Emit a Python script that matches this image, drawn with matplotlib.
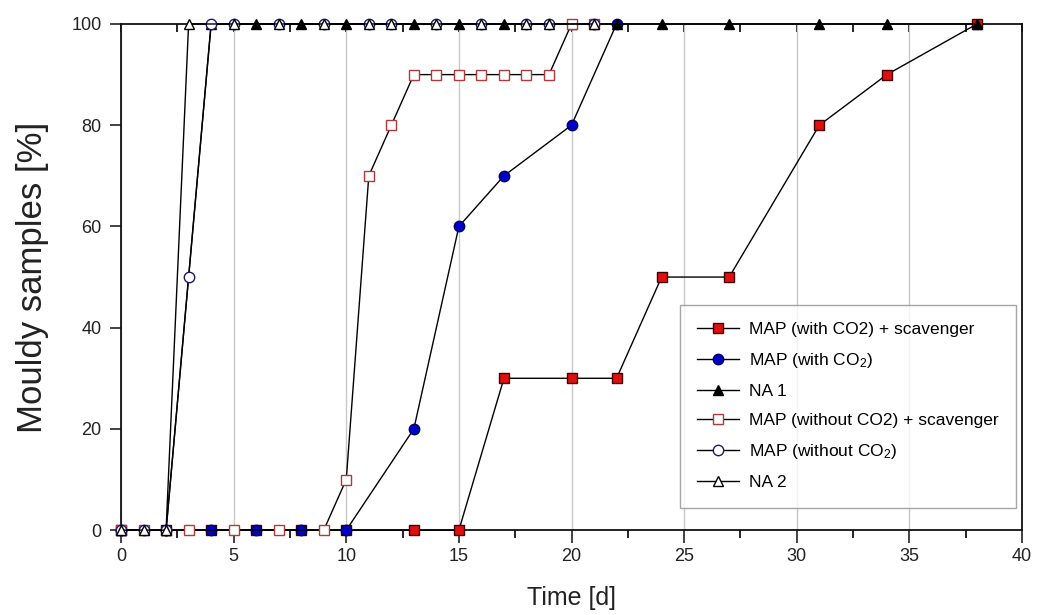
import matplotlib.pyplot as plt
from matplotlib.ticker import MultipleLocator, NullLocator

plt.rcParams['font.family'] = ['Liberation Sans', 'DejaVu Sans']

# MAP (with CO2) + scavenger
scav_co2_x = [0, 2, 4, 6, 8, 10, 13, 15, 17, 20, 22, 24, 27, 31, 34, 38]
scav_co2_y = [0, 0, 0, 0, 0, 0, 0, 0, 30, 30, 30, 50, 50, 80, 90, 100]
# MAP (with CO2)
co2_x = [0, 2, 4, 6, 8, 10, 13, 15, 17, 20, 22]
co2_y = [0, 0, 0, 0, 0, 0, 20, 60, 70, 80, 100]
# NA 1
na1_x = [0, 2, 4, 6, 8, 10, 13, 15, 17, 20, 22, 24, 27, 31, 34, 38]
na1_y = [0, 0, 100, 100, 100, 100, 100, 100, 100, 100, 100, 100, 100, 100, 100, 100]
# MAP (without CO2) + scavenger
scav_noco2_x = [0, 1, 3, 5, 7, 9, 10, 11, 12, 13, 14, 15, 16, 17, 18, 19, 20, 21]
scav_noco2_y = [0, 0, 0, 0, 0, 0, 10, 70, 80, 90, 90, 90, 90, 90, 90, 90, 100, 100]
# MAP (without CO2)
noco2_x = [0, 1, 2, 3, 4, 5, 7, 9, 11, 12, 14, 16, 18, 19, 21]
noco2_y = [0, 0, 0, 50, 100, 100, 100, 100, 100, 100, 100, 100, 100, 100, 100]
# NA 2
na2_x = [0, 1, 2, 3, 5, 7, 9, 11, 12, 14, 16, 18, 19, 21]
na2_y = [0, 0, 0, 100, 100, 100, 100, 100, 100, 100, 100, 100, 100, 100]

fig = plt.figure(figsize=(10.38, 6.15), dpi=100)
ax = fig.add_axes([0.1166, 0.138, 0.8680, 0.823])

ax.grid(True, axis='x', color='#c8c8c8', linewidth=1.0)
ax.set_axisbelow(True)

kw = dict(color='black', linewidth=1.0, markersize=7.5, clip_on=False, zorder=3)
ax.plot(scav_co2_x, scav_co2_y, marker='s', markerfacecolor='#e01010',
        markeredgecolor='#400000', label='MAP (with CO2) + scavenger', **kw)
ax.plot(co2_x, co2_y, marker='o', markerfacecolor='#0000c8',
        markeredgecolor='#000060', label=r'MAP (with CO$\mathregular{_2}$)', **kw)
ax.plot(na1_x, na1_y, marker='^', markerfacecolor='black',
        markeredgecolor='black', label='NA 1', **kw)
ax.plot(scav_noco2_x, scav_noco2_y, marker='s', markerfacecolor='white',
        markeredgecolor='#b03a3a', label='MAP (without CO2) + scavenger', **kw)
ax.plot(noco2_x, noco2_y, marker='o', markerfacecolor='white',
        markeredgecolor='#1a1a6a', label=r'MAP (without CO$\mathregular{_2}$)', **kw)
ax.plot(na2_x, na2_y, marker='^', markerfacecolor='white',
        markeredgecolor='black', label='NA 2', **kw)

ax.set_xlim(0, 40)
ax.set_ylim(0, 100)
ax.xaxis.set_major_locator(MultipleLocator(5))
ax.xaxis.set_minor_locator(MultipleLocator(2.5))
ax.yaxis.set_major_locator(MultipleLocator(20))
ax.tick_params(axis='x', which='major', direction='out', length=9, width=1.2,
               labelsize=13, colors='#222222', top=False, pad=4)
ax.tick_params(axis='x', which='minor', direction='out', length=6, width=1.2,
               top=False)
ax.tick_params(axis='y', which='major', direction='out', length=8, width=1.2,
               labelsize=13, colors='#222222', right=False, pad=6)
for s in ax.spines.values():
    s.set_linewidth(1.3)
    s.set_color('#111111')

# small inward ticks on the top edge
top = ax.secondary_xaxis('top')
top.xaxis.set_major_locator(NullLocator())
top.xaxis.set_minor_locator(MultipleLocator(2.5))
top.tick_params(which='minor', direction='in', length=6, width=1.2)
top.set_xticklabels([])
top.spines['top'].set_visible(False)

ax.set_xlabel('Time [d]', fontsize=18, color='#222222', labelpad=15)
ax.set_ylabel('Mouldy samples [%]', fontsize=25, color='#222222', labelpad=16)

leg = ax.legend(loc='upper left', bbox_to_anchor=(0.620, 0.445), fontsize=12.5,
                frameon=True, fancybox=False, edgecolor='#909090',
                handlelength=2.4, borderpad=1.0, labelspacing=0.8,
                handletextpad=0.6, borderaxespad=0)
leg.get_frame().set_linewidth(1.0)

fig.savefig('out.png', dpi=100)
